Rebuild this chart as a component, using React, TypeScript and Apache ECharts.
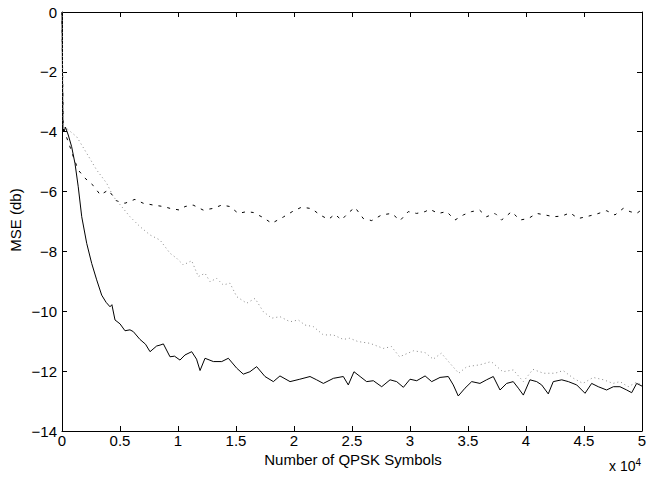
import React, { useEffect, useRef } from "react";
import * as echarts from "echarts";

const xTicks = [0, 0.5, 1, 1.5, 2, 2.5, 3, 3.5, 4, 4.5, 5];
const yTicks = [0, -2, -4, -6, -8, -10, -12, -14];

const solidSeries: number[][] = [[0,0],[0.008,-3.9],[0.017,-4.0],[0.03,-3.85],[0.054,-4.11],[0.083,-4.5],[0.112,-5.06],[0.14,-5.84],[0.17,-6.84],[0.213,-7.73],[0.256,-8.40],[0.299,-8.95],[0.342,-9.46],[0.38,-9.7],[0.414,-9.85],[0.43,-9.78],[0.457,-10.29],[0.5,-10.42],[0.543,-10.65],[0.586,-10.62],[0.615,-10.68],[0.672,-10.94],[0.72,-11.1],[0.759,-11.35],[0.816,-11.16],[0.845,-11.13],[0.874,-11.09],[0.931,-11.52],[0.97,-11.5],[1.017,-11.63],[1.06,-11.46],[1.118,-11.35],[1.16,-11.6],[1.19,-11.98],[1.233,-11.57],[1.305,-11.68],[1.377,-11.68],[1.434,-11.57],[1.506,-11.90],[1.563,-12.10],[1.62,-12.02],[1.678,-11.85],[1.75,-12.18],[1.822,-12.35],[1.879,-12.16],[1.966,-12.35],[2.05,-12.27],[2.138,-12.18],[2.195,-12.29],[2.253,-12.41],[2.34,-12.24],[2.425,-12.18],[2.468,-12.46],[2.517,-12.02],[2.57,-12.18],[2.626,-12.35],[2.684,-12.32],[2.756,-12.52],[2.828,-12.29],[2.885,-12.35],[2.943,-12.54],[3.0,-12.27],[3.058,-12.32],[3.13,-12.16],[3.187,-12.35],[3.259,-12.21],[3.33,-12.18],[3.373,-12.46],[3.416,-12.83],[3.474,-12.57],[3.532,-12.35],[3.603,-12.41],[3.66,-12.29],[3.718,-12.18],[3.776,-12.63],[3.833,-12.41],[3.89,-12.35],[3.934,-12.57],[3.977,-12.80],[4.034,-12.29],[4.092,-12.35],[4.135,-12.46],[4.192,-12.76],[4.235,-12.35],[4.308,-12.29],[4.365,-12.35],[4.437,-12.46],[4.509,-12.74],[4.566,-12.41],[4.623,-12.52],[4.695,-12.63],[4.753,-12.52],[4.81,-12.52],[4.868,-12.63],[4.911,-12.72],[4.954,-12.41],[5.0,-12.5]];

const dashedSeries: number[][] = [[0,0],[0.01,-3.9],[0.026,-4.05],[0.06,-4.4],[0.097,-4.83],[0.14,-5.28],[0.198,-5.55],[0.27,-5.8],[0.33,-6.11],[0.40,-5.95],[0.47,-6.31],[0.543,-6.39],[0.629,-6.26],[0.70,-6.39],[0.787,-6.45],[0.874,-6.50],[0.931,-6.56],[1.017,-6.62],[1.06,-6.50],[1.13,-6.45],[1.218,-6.62],[1.305,-6.56],[1.377,-6.45],[1.448,-6.50],[1.52,-6.73],[1.592,-6.67],[1.65,-6.70],[1.735,-6.87],[1.808,-7.06],[1.908,-6.85],[1.994,-6.65],[2.066,-6.52],[2.152,-6.57],[2.224,-6.78],[2.296,-6.93],[2.353,-6.76],[2.41,-6.95],[2.468,-6.71],[2.526,-6.53],[2.597,-6.90],[2.67,-6.97],[2.756,-6.78],[2.842,-6.73],[2.914,-6.97],[2.985,-6.67],[3.057,-6.73],[3.13,-6.67],[3.17,-6.59],[3.244,-6.73],[3.316,-6.67],[3.388,-6.95],[3.46,-6.78],[3.53,-6.67],[3.60,-6.62],[3.66,-6.84],[3.733,-6.73],[3.79,-6.95],[3.876,-6.67],[3.95,-6.95],[4.02,-6.90],[4.092,-6.73],[4.164,-6.78],[4.236,-6.84],[4.308,-6.82],[4.38,-6.71],[4.45,-6.90],[4.52,-6.84],[4.61,-6.75],[4.695,-6.64],[4.767,-6.78],[4.839,-6.56],[4.897,-6.67],[4.954,-6.73],[5.0,-6.6]];

const dottedSeries: number[][] = [[0,0],[0.01,-3.85],[0.04,-3.89],[0.127,-4.17],[0.213,-4.72],[0.299,-5.28],[0.385,-5.72],[0.443,-6.17],[0.514,-6.5],[0.586,-6.84],[0.672,-7.17],[0.759,-7.45],[0.845,-7.62],[0.931,-8.06],[0.989,-8.23],[1.046,-8.45],[1.118,-8.31],[1.175,-8.84],[1.233,-8.73],[1.276,-9.01],[1.333,-8.90],[1.39,-9.12],[1.448,-9.06],[1.506,-9.51],[1.592,-9.73],[1.664,-9.57],[1.735,-10.01],[1.808,-10.23],[1.879,-10.18],[1.966,-10.35],[2.037,-10.29],[2.095,-10.46],[2.166,-10.51],[2.253,-10.79],[2.339,-10.79],[2.425,-10.94],[2.48,-10.9],[2.55,-11.01],[2.655,-11.07],[2.77,-11.24],[2.84,-11.18],[2.91,-11.52],[3.03,-11.32],[3.13,-11.38],[3.2,-11.6],[3.27,-11.40],[3.345,-11.74],[3.42,-12.07],[3.49,-11.85],[3.60,-11.79],[3.70,-11.68],[3.80,-12.02],[3.89,-11.96],[3.977,-12.35],[4.06,-11.94],[4.15,-12.07],[4.25,-12.07],[4.32,-11.98],[4.41,-12.24],[4.49,-12.41],[4.58,-12.21],[4.67,-12.29],[4.75,-12.41],[4.81,-12.35],[4.88,-12.52],[4.95,-12.38],[5.0,-12.45]];

const xLabel = "Number of QPSK Symbols";
const yLabel = "MSE (db)";

const FONT = "'Liberation Sans', Arial, Helvetica, sans-serif";

export default function App() {
  const ref = useRef<HTMLDivElement>(null);
  useEffect(() => {
    if (!ref.current) return;
    const chart = echarts.init(ref.current, undefined, { renderer: "svg" });
    const axisCommon = {
      type: "value" as const,
      axisLine: { show: true, onZero: false, lineStyle: { color: "#000", width: 1 } },
      axisTick: { show: true, inside: true, length: 5, lineStyle: { color: "#000", width: 1 } },
      splitLine: { show: false },
    };
    const fmt = (v: number) => (v < 0 ? "\u2212" + Math.abs(v) : String(v));
    chart.setOption({
      animation: false,
      backgroundColor: "#fff",
      grid: { left: 62, right: 18, top: 12, bottom: 47, containLabel: false },
      xAxis: [
        {
          ...axisCommon,
          position: "bottom",
          min: xTicks[0],
          max: xTicks[xTicks.length - 1],
          interval: 0.5,
          axisLabel: { show: true, color: "#000", fontSize: 15, fontFamily: FONT, margin: 2, formatter: (v: number) => String(v) },
        },
        {
          ...axisCommon,
          position: "top",
          min: xTicks[0],
          max: xTicks[xTicks.length - 1],
          interval: 0.5,
          axisLabel: { show: false },
        },
      ],
      yAxis: [
        {
          ...axisCommon,
          position: "left",
          min: yTicks[yTicks.length - 1],
          max: yTicks[0],
          interval: 2,
          axisLabel: { show: true, color: "#000", fontSize: 15, fontFamily: FONT, margin: 5, formatter: fmt },
        },
        {
          ...axisCommon,
          position: "right",
          min: yTicks[yTicks.length - 1],
          max: yTicks[0],
          interval: 2,
          axisLabel: { show: false },
        },
      ],
      graphic: [
        {
          type: "text",
          x: 353,
          y: 459,
          style: { text: xLabel, fill: "#000", font: `15px ${FONT}`, align: "center", verticalAlign: "middle" },
        },
        {
          type: "text",
          x: 15,
          y: 220,
          rotation: Math.PI / 2,
          style: { text: yLabel, fill: "#000", font: `15px ${FONT}`, align: "center", verticalAlign: "middle" },
        },
        {
          type: "text",
          x: 609,
          y: 457,
          style: {
            text: "x 10{s|4}",
            fill: "#000",
            font: `14px ${FONT}`,
            rich: { s: { fontSize: 10, fontFamily: FONT, verticalAlign: "top", padding: [0, 0, 8, 0] } },
          },
        },
      ],
      series: [
        {
          type: "line",
          data: solidSeries,
          showSymbol: false,
          lineStyle: { color: "#000", width: 1, type: "solid" },
        },
        {
          type: "line",
          data: dashedSeries,
          showSymbol: false,
          lineStyle: { color: "#000", width: 1, type: [3, 6] },
        },
        {
          type: "line",
          data: dottedSeries,
          showSymbol: false,
          lineStyle: { color: "#888", width: 1, type: [1, 3] },
        },
      ],
    });
    return () => chart.dispose();
  }, []);
  return <div ref={ref} style={{ width: 660, height: 478, position: "absolute", left: 0, top: 0 }} />;
}
